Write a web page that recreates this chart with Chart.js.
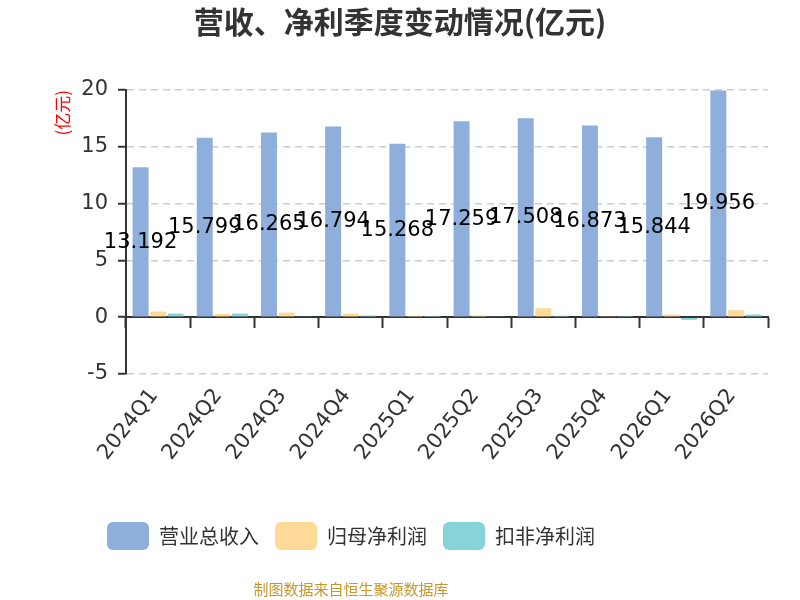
<!DOCTYPE html>
<html>
<head>
<meta charset="utf-8">
<script src="https://cdn.jsdelivr.net/npm/chart.js@4"></script>
<style>
  html, body { margin: 0; padding: 0; background: #fff; }
  #wrap { width: 800px; height: 600px; }
</style>
</head>
<body>
<div id="wrap"><canvas id="c" width="800" height="600"></canvas></div>
<script>
const quarters = ['2024Q1','2024Q2','2024Q3','2024Q4','2025Q1','2025Q2','2025Q3','2025Q4','2026Q1','2026Q2'];
const revenue = [13.192, 15.799, 16.265, 16.794, 15.268, 17.259, 17.508, 16.873, 15.844, 19.956];
const parentNetProfit = [0.50, 0.29, 0.41, 0.32, 0.12, 0.15, 0.79, 0.09, 0.23, 0.62];
const deductedNetProfit = [0.32, 0.32, 0.08, 0.15, 0.02, 0.05, 0.12, 0.03, -0.23, 0.23];
const seriesNames = ['营业总收入', '归母净利润', '扣非净利润'];
const yTicks = [-5, 0, 5, 10, 15, 20];
const titleText = '营收、净利季度变动情况(亿元)';
const footerText = '制图数据来自恒生聚源数据库';

const FONT = '"Noto Sans CJK SC", "Noto Sans", sans-serif';
const NUMFONT = '"DejaVu Sans", "Noto Sans", sans-serif';

const valueLabels = {
  id: 'valueLabels',
  afterDatasetsDraw(chart) {
    const ctx = chart.ctx;
    const meta = chart.getDatasetMeta(0);
    const ys = chart.scales.y;
    ctx.save();
    ctx.font = '21px ' + NUMFONT;
    ctx.fillStyle = '#000';
    ctx.textAlign = 'center';
    ctx.textBaseline = 'middle';
    meta.data.forEach((bar, i) => {
      ctx.fillText(String(revenue[i]), bar.x, ys.getPixelForValue(revenue[i] / 2));
    });
    ctx.restore();
  }
};

const boxShift = {
  id: 'boxShift',
  afterLayout(chart) {
    const w = chart.width;
    chart.boxes.forEach(b => {
      if (b === chart.legend) {
        b.left = 91;
      } else if (b.options && b.options.text === titleText) {
        b.left = 0; b.right = w; b.width = w;
      } else if (b.options && b.options.text === footerText) {
        b.left = 0; b.right = 702; b.width = 702;
      }
    });
  }
};

new Chart(document.getElementById('c'), {
  type: 'bar',
  data: {
    labels: quarters,
    datasets: [
      { label: seriesNames[0], data: revenue, backgroundColor: '#8EAEDB', borderWidth: 0 },
      { label: seriesNames[1], data: parentNetProfit, backgroundColor: '#FFD998', borderWidth: 0 },
      { label: seriesNames[2], data: deductedNetProfit, backgroundColor: '#86D4D8', borderWidth: 0 }
    ]
  },
  options: {
    responsive: false,
    animation: false,
    devicePixelRatio: 1,
    categoryPercentage: 0.82,
    barPercentage: 0.91,
    layout: { padding: { left: 0, right: 32, top: 0, bottom: 0 } },
    plugins: {
      title: {
        display: true,
        text: titleText,
        color: '#333',
        font: { family: FONT, size: 30, weight: 'bold' },
        padding: { top: 4, bottom: 50 }
      },
      subtitle: {
        display: true,
        position: 'bottom',
        text: footerText,
        color: '#C9962B',
        font: { family: FONT, size: 15 },
        padding: { top: 20, bottom: 2 }
      },
      legend: {
        position: 'bottom',
        align: 'start',
        labels: {
          boxWidth: 42,
          boxHeight: 28,
          useBorderRadius: true,
          borderRadius: 6,
          padding: 16,
          color: '#333',
          font: { family: FONT, size: 20 }
        }
      },
      tooltip: { enabled: false }
    },
    scales: {
      x: {
        position: 'bottom',
        grid: { display: false, drawTicks: false },
        border: { display: false },
        ticks: {
          autoSkip: false,
          maxRotation: 52,
          minRotation: 52,
          padding: 10,
          labelOffset: -4,
          color: '#333',
          font: { family: NUMFONT, size: 21 }
        },
        afterFit(scale) { scale.height = 132; }
      },
      x2: {
        type: 'category',
        axis: 'x',
        labels: quarters,
        position: { y: 0 },
        offset: true,
        grid: { offset: true, drawOnChartArea: false, drawTicks: true, tickLength: 10, tickColor: '#333', tickWidth: 2, color: '#333' },
        border: { display: true, color: '#333', width: 2 },
        ticks: { display: false }
      },
      y: {
        min: -5,
        max: 20,
        afterBuildTicks(scale) { scale.ticks = yTicks.map(v => ({ value: v })); },
        grid: { color: '#CCCCCC', lineWidth: 1.5, tickColor: '#333', tickWidth: 2, tickLength: 8, drawTicks: true },
        border: { display: true, color: '#333', width: 2, dash: [7, 5] },
        ticks: {
          padding: 10,
          color: '#333',
          font: { family: NUMFONT, size: 21 }
        },
        title: {
          display: true,
          text: '(亿元)',
          align: 'end',
          color: '#FF0000',
          font: { family: FONT, size: 17 },
          padding: { top: 52, bottom: 0 }
        },
        afterFit(scale) { scale.width = 126; }
      }
    }
  },
  plugins: [valueLabels, boxShift]
});
</script>
</body>
</html>
